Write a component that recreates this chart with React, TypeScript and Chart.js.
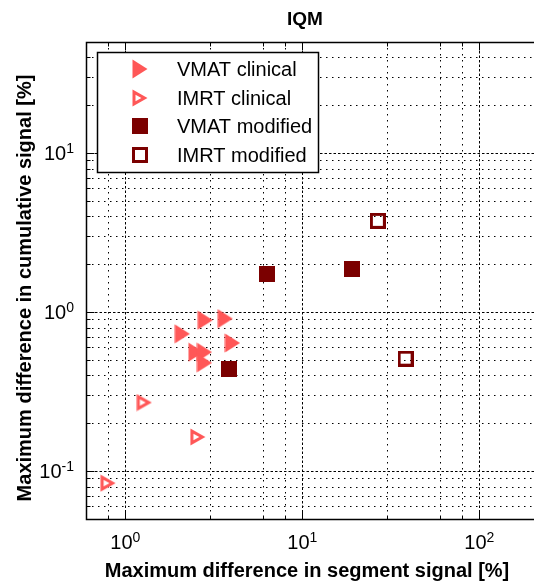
import { useEffect, useRef } from 'react';
import { Chart, registerables } from 'chart.js';

Chart.register(...registerables);

// ---- data -------------------------------------------------------------
const vmatClinicalX = [2.1, 2.83, 3.67, 4.03, 2.51, 2.8, 2.8];
const vmatClinicalY = [0.73, 0.89, 0.91, 0.64, 0.56, 0.56, 0.48];

const imrtClinicalX = [1.28, 2.57, 0.8];
const imrtClinicalY = [0.27, 0.164, 0.084];

const vmatModifiedX = [3.84, 6.34, 19.1];
const vmatModifiedY = [0.44, 1.73, 1.86];

const imrtModifiedX = [26.7, 38.3];
const imrtModifiedY = [3.75, 0.51];

const seriesNames = ['VMAT clinical', 'IMRT clinical', 'VMAT modified', 'IMRT modified'];

// axis ranges and decade labels (10^e)
const X_MIN = 0.6;
const X_MAX = 220;
const Y_MIN = 0.05;
const Y_MAX = 50;
const xDecades = [0, 1, 2];
const yDecades = [-1, 0, 1];
const mantissas = [1, 2, 3, 4, 5, 6, 7, 8, 9];

const TITLE = 'IQM';
const X_TITLE = 'Maximum difference in segment signal [%]';
const Y_TITLE = 'Maximum difference in cumulative signal [%]';

// ---- style ------------------------------------------------------------
const FONT = '"Liberation Sans", Arial, Helvetica, sans-serif';
const LIGHT_RED = '#ff5757';
const DARK_RED = '#7b0000';
const MAJOR_DASH = [2.5, 2];
const MINOR_DASH = [1.5, 4.5];

const CANVAS_W = 550;
const CANVAS_H = 582;

type MarkerKind = 'triFill' | 'triOpen' | 'sqFill' | 'sqOpen';

function makeMarker(kind: MarkerKind, color: string): HTMLCanvasElement {
  const c = document.createElement('canvas');
  const g = c.getContext('2d')!;
  if (kind === 'triFill') {
    c.width = 16;
    c.height = 20;
    g.fillStyle = color;
    g.beginPath();
    g.moveTo(0.5, 0.5);
    g.lineTo(15.5, 10);
    g.lineTo(0.5, 19.5);
    g.closePath();
    g.fill();
  } else if (kind === 'triOpen') {
    c.width = 16;
    c.height = 18;
    g.fillStyle = color;
    g.beginPath();
    g.moveTo(0.5, 0.5);
    g.lineTo(15.5, 9);
    g.lineTo(0.5, 17.5);
    g.closePath();
    g.moveTo(3.5, 5.7);
    g.lineTo(9.4, 9);
    g.lineTo(3.5, 12.3);
    g.closePath();
    g.fill('evenodd');
  } else if (kind === 'sqFill') {
    c.width = 16;
    c.height = 16;
    g.fillStyle = color;
    g.fillRect(0, 0, 16, 16);
  } else {
    c.width = 16;
    c.height = 16;
    g.fillStyle = color;
    g.beginPath();
    g.rect(0, 0, 16, 16);
    g.rect(3, 3, 10, 10);
    g.fill('evenodd');
  }
  return c;
}

function isDecade(v: number): boolean {
  const l = Math.log10(v);
  return Math.abs(l - Math.round(l)) < 1e-9;
}

function logTicks(min: number, max: number): { value: number; major: boolean }[] {
  const out: { value: number; major: boolean }[] = [];
  const lo = Math.floor(Math.log10(min));
  const hi = Math.ceil(Math.log10(max));
  for (let e = lo; e <= hi; e++) {
    for (const m of mantissas) {
      const v = parseFloat((m * Math.pow(10, e)).toPrecision(6));
      if (v >= min - 1e-12 && v <= max + 1e-12) out.push({ value: v, major: m === 1 });
    }
  }
  return out;
}

function toPoints(xs: number[], ys: number[]) {
  return xs.map((x, i) => ({ x, y: ys[i] }));
}

export default function App() {
  const ref = useRef<HTMLCanvasElement | null>(null);

  useEffect(() => {
    const canvas = ref.current;
    if (!canvas) return;

    const markers = [
      makeMarker('triFill', LIGHT_RED),
      makeMarker('triOpen', LIGHT_RED),
      makeMarker('sqFill', DARK_RED),
      makeMarker('sqOpen', DARK_RED),
    ];

    const seriesData = [
      toPoints(vmatClinicalX, vmatClinicalY),
      toPoints(imrtClinicalX, imrtClinicalY),
      toPoints(vmatModifiedX, vmatModifiedY),
      toPoints(imrtModifiedX, imrtModifiedY),
    ];

    // Grid, box, inward ticks, tick labels, titles and the boxed legend.
    const frame = {
      id: 'frame',
      beforeDatasetsDraw(chart: any) {
        const { ctx, chartArea: a, scales } = chart;
        const xs = scales.x;
        const ys = scales.y;

        ctx.save();
        ctx.fillStyle = '#fff';
        ctx.fillRect(a.left, a.top, a.right - a.left, a.bottom - a.top);

        // dotted grid
        ctx.beginPath();
        ctx.rect(a.left, a.top, a.right - a.left, a.bottom - a.top);
        ctx.clip();
        ctx.lineWidth = 1;
        ctx.strokeStyle = '#000';
        for (const t of xs.ticks) {
          const px = Math.round(xs.getPixelForValue(t.value)) + 0.5;
          ctx.setLineDash(isDecade(t.value) ? MAJOR_DASH : MINOR_DASH);
          ctx.beginPath();
          ctx.moveTo(px, a.top);
          ctx.lineTo(px, a.bottom);
          ctx.stroke();
        }
        for (const t of ys.ticks) {
          const py = Math.round(ys.getPixelForValue(t.value)) + 0.5;
          ctx.setLineDash(isDecade(t.value) ? MAJOR_DASH : MINOR_DASH);
          ctx.beginPath();
          ctx.moveTo(a.left, py);
          ctx.lineTo(a.right, py);
          ctx.stroke();
        }
        ctx.restore();

        // axes box and inward ticks
        ctx.save();
        ctx.strokeStyle = '#000';
        ctx.lineWidth = 1;
        ctx.setLineDash([]);
        const L = Math.round(a.left) + 0.5;
        const T = Math.round(a.top) + 0.5;
        const B = Math.round(a.bottom) + 0.5;
        const R = Math.round(a.right) + 0.5;
        ctx.lineWidth = 1.5;
        ctx.beginPath();
        ctx.moveTo(R, T);
        ctx.lineTo(L, T);
        ctx.lineTo(L, B);
        ctx.lineTo(R, B);
        ctx.stroke();
        ctx.lineWidth = 1;
        ctx.beginPath();
        for (const t of xs.ticks) {
          const px = Math.round(xs.getPixelForValue(t.value)) + 0.5;
          const len = isDecade(t.value) ? 8 : 4;
          ctx.moveTo(px, B);
          ctx.lineTo(px, B - len);
          ctx.moveTo(px, T);
          ctx.lineTo(px, T + len);
        }
        for (const t of ys.ticks) {
          const py = Math.round(ys.getPixelForValue(t.value)) + 0.5;
          const len = isDecade(t.value) ? 8 : 4;
          ctx.moveTo(L, py);
          ctx.lineTo(L + len, py);
        }
        ctx.stroke();
        ctx.restore();
      },
      afterDraw(chart: any) {
        const { ctx, chartArea: a, scales } = chart;
        const xs = scales.x;
        const ys = scales.y;
        ctx.save();
        ctx.fillStyle = '#000';
        ctx.textAlign = 'left';
        ctx.textBaseline = 'alphabetic';

        const big = `20px ${FONT}`;
        const small = `14px ${FONT}`;

        // x tick labels
        for (const e of xDecades) {
          const px = xs.getPixelForValue(Math.pow(10, e));
          const sup = String(e);
          ctx.font = big;
          const w1 = ctx.measureText('10').width;
          ctx.font = small;
          const w2 = ctx.measureText(sup).width;
          const x0 = px - (w1 + w2) / 2;
          const base = a.bottom + 30;
          ctx.font = big;
          ctx.fillText('10', x0, base);
          ctx.font = small;
          ctx.fillText(sup, x0 + w1, base - 7);
        }

        // y tick labels
        for (const e of yDecades) {
          const py = ys.getPixelForValue(Math.pow(10, e));
          const sup = String(e);
          ctx.font = big;
          const w1 = ctx.measureText('10').width;
          ctx.font = small;
          const w2 = ctx.measureText(sup).width;
          const right = a.left - 12;
          const x0 = right - w1 - w2;
          const base = py + 7;
          ctx.font = big;
          ctx.fillText('10', x0, base);
          ctx.font = small;
          ctx.fillText(sup, x0 + w1, base - 7);
        }

        // titles
        ctx.textAlign = 'center';
        ctx.font = `bold 19px ${FONT}`;
        ctx.fillText(TITLE, 305, 25);
        ctx.font = `bold 20px ${FONT}`;
        ctx.fillText(X_TITLE, 307, 577);
        ctx.save();
        ctx.translate(31, 288);
        ctx.rotate(-Math.PI / 2);
        ctx.fillText(Y_TITLE, 0, 0);
        ctx.restore();

        // legend
        const lx = 97.5;
        const ly = 52.5;
        const lw = 221;
        const lh = 120;
        ctx.fillStyle = '#fff';
        ctx.fillRect(lx, ly, lw, lh);
        ctx.strokeStyle = '#000';
        ctx.lineWidth = 1.5;
        ctx.strokeRect(lx, ly, lw, lh);
        ctx.textAlign = 'left';
        ctx.textBaseline = 'middle';
        ctx.font = `20px ${FONT}`;
        ctx.fillStyle = '#000';
        const rows = [69, 98, 126, 155];
        chart.data.datasets.forEach((ds: any, i: number) => {
          const m = ds.pointStyle as HTMLCanvasElement;
          ctx.drawImage(m, 140 - m.width / 2, rows[i] - m.height / 2);
          ctx.fillText(ds.label, 177, rows[i] + 1);
        });
        ctx.restore();
      },
    };

    const chart = new Chart(canvas, {
      type: 'scatter',
      data: {
        datasets: seriesNames.map((name, i) => ({
          label: name,
          data: seriesData[i],
          pointStyle: markers[i] as any,
          pointRadius: 9,
          pointHoverRadius: 9,
          showLine: false,
        })),
      },
      options: {
        responsive: false,
        maintainAspectRatio: false,
        devicePixelRatio: 1,
        animation: false,
        events: [],
        layout: { padding: { left: 86, top: 42, right: 5, bottom: 63 } },
        scales: {
          x: {
            type: 'logarithmic',
            display: false,
            min: X_MIN,
            max: X_MAX,
            afterBuildTicks: (s: any) => {
              s.ticks = logTicks(X_MIN, X_MAX);
            },
          },
          y: {
            type: 'logarithmic',
            display: false,
            min: Y_MIN,
            max: Y_MAX,
            afterBuildTicks: (s: any) => {
              s.ticks = logTicks(Y_MIN, Y_MAX);
            },
          },
        },
        plugins: {
          legend: { display: false },
          tooltip: { enabled: false },
          title: { display: false },
        },
      },
      plugins: [frame],
    });

    return () => chart.destroy();
  }, []);

  return (
    <div
      style={{
        position: 'fixed',
        left: 0,
        top: 0,
        width: 534,
        height: 582,
        overflow: 'hidden',
        background: '#fff',
      }}
    >
      <canvas ref={ref} width={CANVAS_W} height={CANVAS_H} style={{ display: 'block' }} />
    </div>
  );
}
